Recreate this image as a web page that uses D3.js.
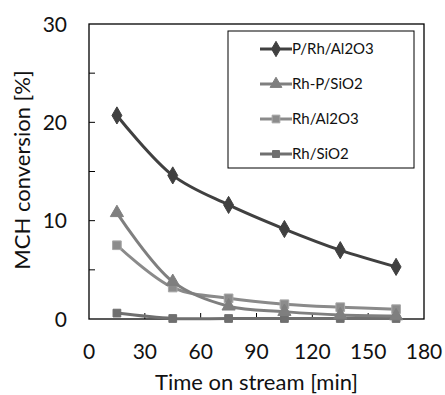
<!DOCTYPE html>
<html>
<head>
<meta charset="utf-8">
<script src="https://cdn.jsdelivr.net/npm/d3@7"></script>
<style>
  body { margin: 0; background: #fff; }
  text { font-family: Lato, "Open Sans", sans-serif; fill: #111; }
</style>
</head>
<body>
<div id="chart"></div>
<script>
var times = [15, 45, 75, 105, 135, 165];
var pRhAl2O3 = [20.7, 14.6, 11.6, 9.15, 7.0, 5.3];
var rhPSiO2 = [10.8, 3.8, 1.3, 0.75, 0.4, 0.3];
var rhAl2O3 = [7.5, 3.2, 2.1, 1.5, 1.2, 1.0];
var rhSiO2 = [0.6, 0.05, 0.05, 0.05, 0.05, 0.05];
var seriesNames = ["P/Rh/Al2O3", "Rh-P/SiO2", "Rh/Al2O3", "Rh/SiO2"];
var xTicks = [0, 30, 60, 90, 120, 150, 180];
var yTicks = [0, 10, 20, 30];

var width = 445, height = 395,
    margin = {top: 24, right: 21, bottom: 76, left: 89};

var series = [
  {name: seriesNames[0], values: pRhAl2O3, color: "#404040", symbol: d3.symbolDiamond, size: 85, fill: "#404040", stroke: "#404040"},
  {name: seriesNames[1], values: rhPSiO2, color: "#7f7f7f", symbol: d3.symbolTriangle, size: 75, fill: "#7f7f7f", stroke: "#7f7f7f"},
  {name: seriesNames[2], values: rhAl2O3, color: "#8a8a8a", symbol: d3.symbolSquare, size: 75, fill: "#8c8c8c", stroke: "#a6a6a6"},
  {name: seriesNames[3], values: rhSiO2, color: "#6f6f6f", symbol: d3.symbolSquare, size: 60, fill: "#6f6f6f", stroke: "#6f6f6f"}
];

var svg = d3.select("#chart").append("svg")
    .attr("width", width)
    .attr("height", height);

var g = svg.append("g").attr("transform", "translate(" + margin.left + "," + margin.top + ")");
var w = width - margin.left - margin.right,
    h = height - margin.top - margin.bottom;

var x = d3.scaleLinear().domain([0, 180]).range([0, w]);
var y = d3.scaleLinear().domain([0, 30]).range([h, 0]);

// frame
g.append("rect").attr("width", w).attr("height", h)
    .attr("fill", "none").attr("stroke", "#000").attr("stroke-width", 1.3);

// inward ticks
g.selectAll(".xt").data(xTicks.slice(1, -1)).enter().append("line")
    .attr("x1", function (d) { return x(d); }).attr("x2", function (d) { return x(d); })
    .attr("y1", h).attr("y2", h - 6).attr("stroke", "#000");
g.selectAll(".yt").data(d3.range(5, 30, 5)).enter().append("line")
    .attr("y1", function (d) { return y(d); }).attr("y2", function (d) { return y(d); })
    .attr("x1", 0).attr("x2", 6).attr("stroke", "#000");

g.selectAll(".xl").data(xTicks).enter().append("text")
    .attr("x", function (d) { return x(d); })
    .attr("y", 359 - margin.top)
    .attr("text-anchor", "middle")
    .style("font-size", "21px")
    .text(function (d) { return d; });
g.selectAll(".yl").data(yTicks).enter().append("text")
    .attr("x", 67 - margin.left)
    .attr("y", function (d) { return y(d); })
    .attr("dy", "0.36em")
    .attr("text-anchor", "end")
    .style("font-size", "21px")
    .text(function (d) { return d; });

svg.append("text")
    .attr("x", margin.left + w / 2).attr("y", 390)
    .attr("text-anchor", "middle")
    .style("font-size", "22px")
    .text("Time on stream [min]");
svg.append("text")
    .attr("transform", "translate(30,170) rotate(-90)")
    .attr("text-anchor", "middle")
    .style("font-size", "22px")
    .text("MCH conversion [%]");

var line = d3.line()
    .x(function (d, i) { return x(times[i]); })
    .y(function (d) { return y(d); })
    .curve(d3.curveCatmullRom.alpha(0.5));

var sg = g.selectAll(".series").data(series.slice().reverse()).enter().append("g");
sg.append("path")
    .attr("d", function (s) { return line(s.values); })
    .attr("fill", "none")
    .attr("stroke", function (s) { return s.color; })
    .attr("stroke-width", 3);
sg.each(function (s) {
  d3.select(this).selectAll("path.m").data(s.values).enter().append("path")
      .attr("class", "m")
      .attr("transform", function (d, i) { return "translate(" + x(times[i]) + "," + y(d) + ")"; })
      .attr("d", d3.symbol().type(s.symbol).size(s.size))
      .attr("fill", s.fill)
      .attr("stroke", s.stroke)
      .attr("stroke-width", 1);
});

// legend
var lg = svg.append("g").attr("transform", "translate(228,31)");
lg.append("rect").attr("width", 186).attr("height", 137)
    .attr("fill", "#fff").attr("stroke", "#000").attr("stroke-width", 1);
var le = lg.selectAll(".le").data(series).enter().append("g")
    .attr("transform", function (s, i) { return "translate(0," + (18 + i * 35) + ")"; });
le.append("line").attr("x1", 32).attr("x2", 64)
    .attr("stroke", function (s) { return s.color; }).attr("stroke-width", 3);
le.append("path")
    .attr("transform", "translate(48,0)")
    .attr("d", function (s) { return d3.symbol().type(s.symbol).size(s.size * 0.8)(); })
    .attr("fill", function (s) { return s.fill; })
    .attr("stroke", function (s) { return s.stroke; });
le.append("text").attr("x", 64).attr("dy", "0.35em")
    .style("font-size", "15px")
    .text(function (s) { return s.name; });
</script>
</body>
</html>
